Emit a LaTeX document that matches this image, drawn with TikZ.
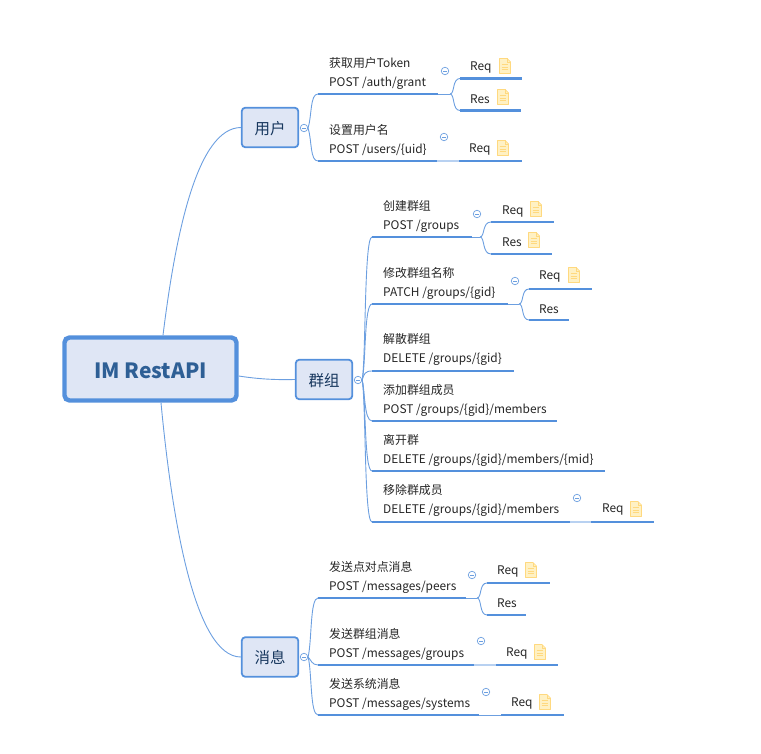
\documentclass[tikz,border=0pt]{standalone}
\usepackage{fontspec}
\setmainfont{Noto Sans CJK SC}
\definecolor{myblue}{HTML}{5490DC}
\definecolor{mythin}{HTML}{6C9FE0}
\definecolor{mypale}{HTML}{B8D1F1}
\definecolor{myfill}{HTML}{DFE6F5}
\definecolor{mydark}{HTML}{2E5F95}
\definecolor{mynavy}{HTML}{17375E}
\definecolor{mytext}{HTML}{262626}
\definecolor{mynote}{HTML}{FFF1C4}
\definecolor{mynoteline}{HTML}{FFD97F}
\tikzset{
  rootbox/.style={draw=myblue,fill=myfill,line width=4.4pt,rounded corners=5pt,inner sep=0pt,
    minimum width=172pt,minimum height=63pt,text height=18.4pt,text depth=0pt,text=mydark,
    font=\fontsize{21}{24}\selectfont\bfseries},
  subbox/.style={draw=myblue,fill=myfill,line width=1.8pt,rounded corners=3.5pt,inner sep=0pt,
    minimum width=56.5pt,minimum height=39.5pt,text height=13.8pt,text depth=0pt,text=mynavy,
    font=\fontsize{15.5}{18}\selectfont},
  apitext/.style={anchor=west,align=left,inner sep=0pt,yshift=-1.8pt,text=mytext,font=\fontsize{11.9}{19}\selectfont},
  reqtext/.style={anchor=west,inner sep=0pt,yshift=-1.9pt,text=mytext,font=\fontsize{11.9}{14}\selectfont},
  foldmark/.style={circle,draw=mythin,fill=white,line width=0.7pt,inner sep=0pt,minimum size=7.5pt,
    path picture={\draw[mythin,line width=0.6pt] ([xshift=-2pt]path picture bounding box.center)
      -- ([xshift=2pt]path picture bounding box.center);}},
  heavyline/.style={myblue,line width=2.8pt},
  thinline/.style={mythin,line width=0.9pt},
  paleline/.style={mypale,line width=1.4pt},
  noteicon/.pic={
    \draw[mynoteline,fill=mynote,line width=0.7pt,line join=round] (-5.5,-7.5) -- (2,-7.5) -- (5.5,-4) -- (5.5,7.5) -- (-5.5,7.5) -- cycle;
    \draw[mynoteline,line width=0.7pt] (2,-7.5) -- (2,-4) -- (5.5,-4);
    \foreach \ypos in {-1.5,1.2,3.9} \draw[mynoteline,line width=0.9pt] (-3.3,\ypos) -- (3.3,\ypos);
  }
}
\begin{document}
\begin{tikzpicture}[x=1pt,y=-1pt]
\useasboundingbox (0,0) rectangle (761,754);

% main boxes
\node[rootbox] (root) at (150.5,369) {IM RestAPI};
\node[subbox] (user) at (270,127.5) {用户};
\node[subbox] (group) at (324,379.5) {群组};
\node[subbox] (msg) at (270,657) {消息};
\draw[thinline] ([xshift=12.5pt]root.north) .. controls (176,230) and (198,128) .. (user.west);
\draw[thinline] ([yshift=-7pt]root.east) .. controls (258,379) and (275,380) .. (group.west);
\draw[thinline] ([xshift=10.5pt]root.south) .. controls (172,520) and (195,657) .. (msg.west);
\node[foldmark] (userfold) at (304,128) {};
\node[foldmark] (groupfold) at (358,380) {};
\node[foldmark] (msgfold) at (304,657) {};

% user
\node[apitext] (token) at (329,71.5) {获取用户Token\\POST /auth/grant};
\coordinate (tokenL) at (318,94); \coordinate (tokenR) at (438,94); \coordinate (tokenJ) at (450,94);
\coordinate (tokenreqL) at (460,78.5); \coordinate (tokenreqR) at (522,78.5);
\coordinate (tokenresL) at (460,110.5); \coordinate (tokenresR) at (521,110.5);
\node[reqtext] (tokenreq) at (470,66) {Req};
\node[reqtext] (tokenres) at (470,97) {Res};
\pic at (505,66) {noteicon};
\pic at (503,97) {noteicon};
\node[foldmark] (tokenfold) at (445,71) {};
\draw[heavyline] (tokenL) -- (tokenR);
\draw[thinline] (tokenR) -- (tokenJ);
\draw[thinline] (tokenJ) .. controls (455,94) and (452,78.5) .. (tokenreqL);
\draw[thinline] (tokenJ) .. controls (455,94) and (452,110.5) .. (tokenresL);
\draw[heavyline] (tokenreqL) -- (tokenreqR);
\draw[heavyline] (tokenresL) -- (tokenresR);

\node[apitext] (uname) at (329,138.5) {设置用户名\\POST /users/\{uid\}};
\coordinate (unameL) at (318,161); \coordinate (unameR) at (437,161);
\coordinate (unamereqL) at (459,161); \coordinate (unamereqR) at (522,161);
\node[reqtext] (unamereq) at (469,148) {Req};
\pic at (503,148) {noteicon};
\node[foldmark] (unamefold) at (444,137) {};
\draw[heavyline] (unameL) -- (unameR);
\draw[paleline] (unameR) -- (unamereqL);
\draw[heavyline] (unamereqL) -- (unamereqR);

\draw[thinline] (userfold.east) .. controls (312,115) and (310,94) .. (tokenL);
\draw[thinline] (userfold.east) .. controls (312,141) and (310,161) .. (unameL);

% group
\node[apitext] (gnew) at (383,214.5) {创建群组\\POST /groups};
\coordinate (gnewL) at (372,237); \coordinate (gnewR) at (472,237); \coordinate (gnewJ) at (480,237);
\coordinate (gnewreqL) at (491,222); \coordinate (gnewreqR) at (554,222);
\coordinate (gnewresL) at (491,254); \coordinate (gnewresR) at (552,254);
\node[reqtext] (gnewreq) at (502,210) {Req};
\node[reqtext] (gnewres) at (502,240) {Res};
\pic at (536,209) {noteicon};
\pic at (534,240) {noteicon};
\node[foldmark] (gnewfold) at (477,214) {};
\draw[heavyline] (gnewL) -- (gnewR);
\draw[thinline] (gnewR) -- (gnewJ);
\draw[thinline] (gnewJ) .. controls (485,237) and (482,222) .. (gnewreqL);
\draw[thinline] (gnewJ) .. controls (485,237) and (482,254) .. (gnewresL);
\draw[heavyline] (gnewreqL) -- (gnewreqR);
\draw[heavyline] (gnewresL) -- (gnewresR);

\node[apitext] (gname) at (383,281.5) {修改群组名称\\PATCH /groups/\{gid\}};
\coordinate (gnameL) at (372,304); \coordinate (gnameR) at (508,304); \coordinate (gnameJ) at (519,304);
\coordinate (gnamereqL) at (529,289); \coordinate (gnamereqR) at (592,289);
\coordinate (gnameresL) at (529,320); \coordinate (gnameresR) at (569,320);
\node[reqtext] (gnamereq) at (539,275) {Req};
\node[reqtext] (gnameres) at (539,307) {Res};
\pic at (574,275) {noteicon};
\node[foldmark] (gnamefold) at (515,281) {};
\draw[heavyline] (gnameL) -- (gnameR);
\draw[thinline] (gnameR) -- (gnameJ);
\draw[thinline] (gnameJ) .. controls (524,304) and (521,289) .. (gnamereqL);
\draw[thinline] (gnameJ) .. controls (524,304) and (521,320) .. (gnameresL);
\draw[heavyline] (gnamereqL) -- (gnamereqR);
\draw[heavyline] (gnameresL) -- (gnameresR);

\node[apitext] (gdel) at (383,347.5) {解散群组\\DELETE /groups/\{gid\}};
\coordinate (gdelL) at (372,371); \coordinate (gdelR) at (514,371);
\draw[heavyline] (gdelL) -- (gdelR);

\node[apitext] (gadd) at (383,398.5) {添加群组成员\\POST /groups/\{gid\}/members};
\coordinate (gaddL) at (372,421); \coordinate (gaddR) at (557,421);
\draw[heavyline] (gaddL) -- (gaddR);

\node[apitext] (gleave) at (383,448.5) {离开群\\DELETE /groups/\{gid\}/members/\{mid\}};
\coordinate (gleaveL) at (372,471); \coordinate (gleaveR) at (605,471);
\draw[heavyline] (gleaveL) -- (gleaveR);

\node[apitext] (gkick) at (383,499) {移除群成员\\DELETE /groups/\{gid\}/members};
\coordinate (gkickL) at (372,522); \coordinate (gkickR) at (570,522);
\coordinate (gkickreqL) at (591,522); \coordinate (gkickreqR) at (654,522);
\node[reqtext] (gkickreq) at (602,508) {Req};
\pic at (636,509) {noteicon};
\node[foldmark] (gkickfold) at (577,498) {};
\draw[heavyline] (gkickL) -- (gkickR);
\draw[paleline] (gkickR) -- (gkickreqL);
\draw[heavyline] (gkickreqL) -- (gkickreqR);

\draw[thinline] (groupfold.east) .. controls (366,360) and (364,237) .. (gnewL);
\draw[thinline] (groupfold.east) .. controls (366,365) and (364,304) .. (gnameL);
\draw[thinline] (groupfold.east) .. controls (364,374) and (365,371) .. (gdelL);
\draw[thinline] (groupfold.east) .. controls (365,390) and (364,421) .. (gaddL);
\draw[thinline] (groupfold.east) .. controls (366,395) and (364,471) .. (gleaveL);
\draw[thinline] (groupfold.east) .. controls (366,400) and (364,522) .. (gkickL);

% messages
\node[apitext] (mpeer) at (329,575.5) {发送点对点消息\\POST /messages/peers};
\coordinate (mpeerL) at (318,598); \coordinate (mpeerR) at (466,598); \coordinate (mpeerJ) at (477,598);
\coordinate (mpeerreqL) at (487,583); \coordinate (mpeerreqR) at (550,583);
\coordinate (mpeerresL) at (487,615); \coordinate (mpeerresR) at (526,615);
\node[reqtext] (mpeerreq) at (497,570) {Req};
\node[reqtext] (mpeerres) at (497,601) {Res};
\pic at (531,570) {noteicon};
\node[foldmark] (mpeerfold) at (472,575) {};
\draw[heavyline] (mpeerL) -- (mpeerR);
\draw[thinline] (mpeerR) -- (mpeerJ);
\draw[thinline] (mpeerJ) .. controls (482,598) and (479,583) .. (mpeerreqL);
\draw[thinline] (mpeerJ) .. controls (482,598) and (479,615) .. (mpeerresL);
\draw[heavyline] (mpeerreqL) -- (mpeerreqR);
\draw[heavyline] (mpeerresL) -- (mpeerresR);

\node[apitext] (mgroup) at (329,642.5) {发送群组消息\\POST /messages/groups};
\coordinate (mgroupL) at (318,665); \coordinate (mgroupR) at (474,665);
\coordinate (mgroupreqL) at (496,665); \coordinate (mgroupreqR) at (558,665);
\node[reqtext] (mgroupreq) at (506,652) {Req};
\pic at (540,652) {noteicon};
\node[foldmark] (mgroupfold) at (481,641) {};
\draw[heavyline] (mgroupL) -- (mgroupR);
\draw[paleline] (mgroupR) -- (mgroupreqL);
\draw[heavyline] (mgroupreqL) -- (mgroupreqR);

\node[apitext] (msys) at (329,692.5) {发送系统消息\\POST /messages/systems};
\coordinate (msysL) at (318,715); \coordinate (msysR) at (479,715);
\coordinate (msysreqL) at (501,715); \coordinate (msysreqR) at (564,715);
\node[reqtext] (msysreq) at (511,702) {Req};
\pic at (545,702) {noteicon};
\node[foldmark] (msysfold) at (486,692) {};
\draw[heavyline] (msysL) -- (msysR);
\draw[thinline] (msysR) -- (msysreqL);
\draw[heavyline] (msysreqL) -- (msysreqR);

\draw[thinline] (msgfold.east) .. controls (312,640) and (310,598) .. (mpeerL);
\draw[thinline] (msgfold.east) .. controls (311,660) and (312,665) .. (mgroupL);
\draw[thinline] (msgfold.east) .. controls (312,672) and (310,715) .. (msysL);
\end{tikzpicture}
\end{document}
